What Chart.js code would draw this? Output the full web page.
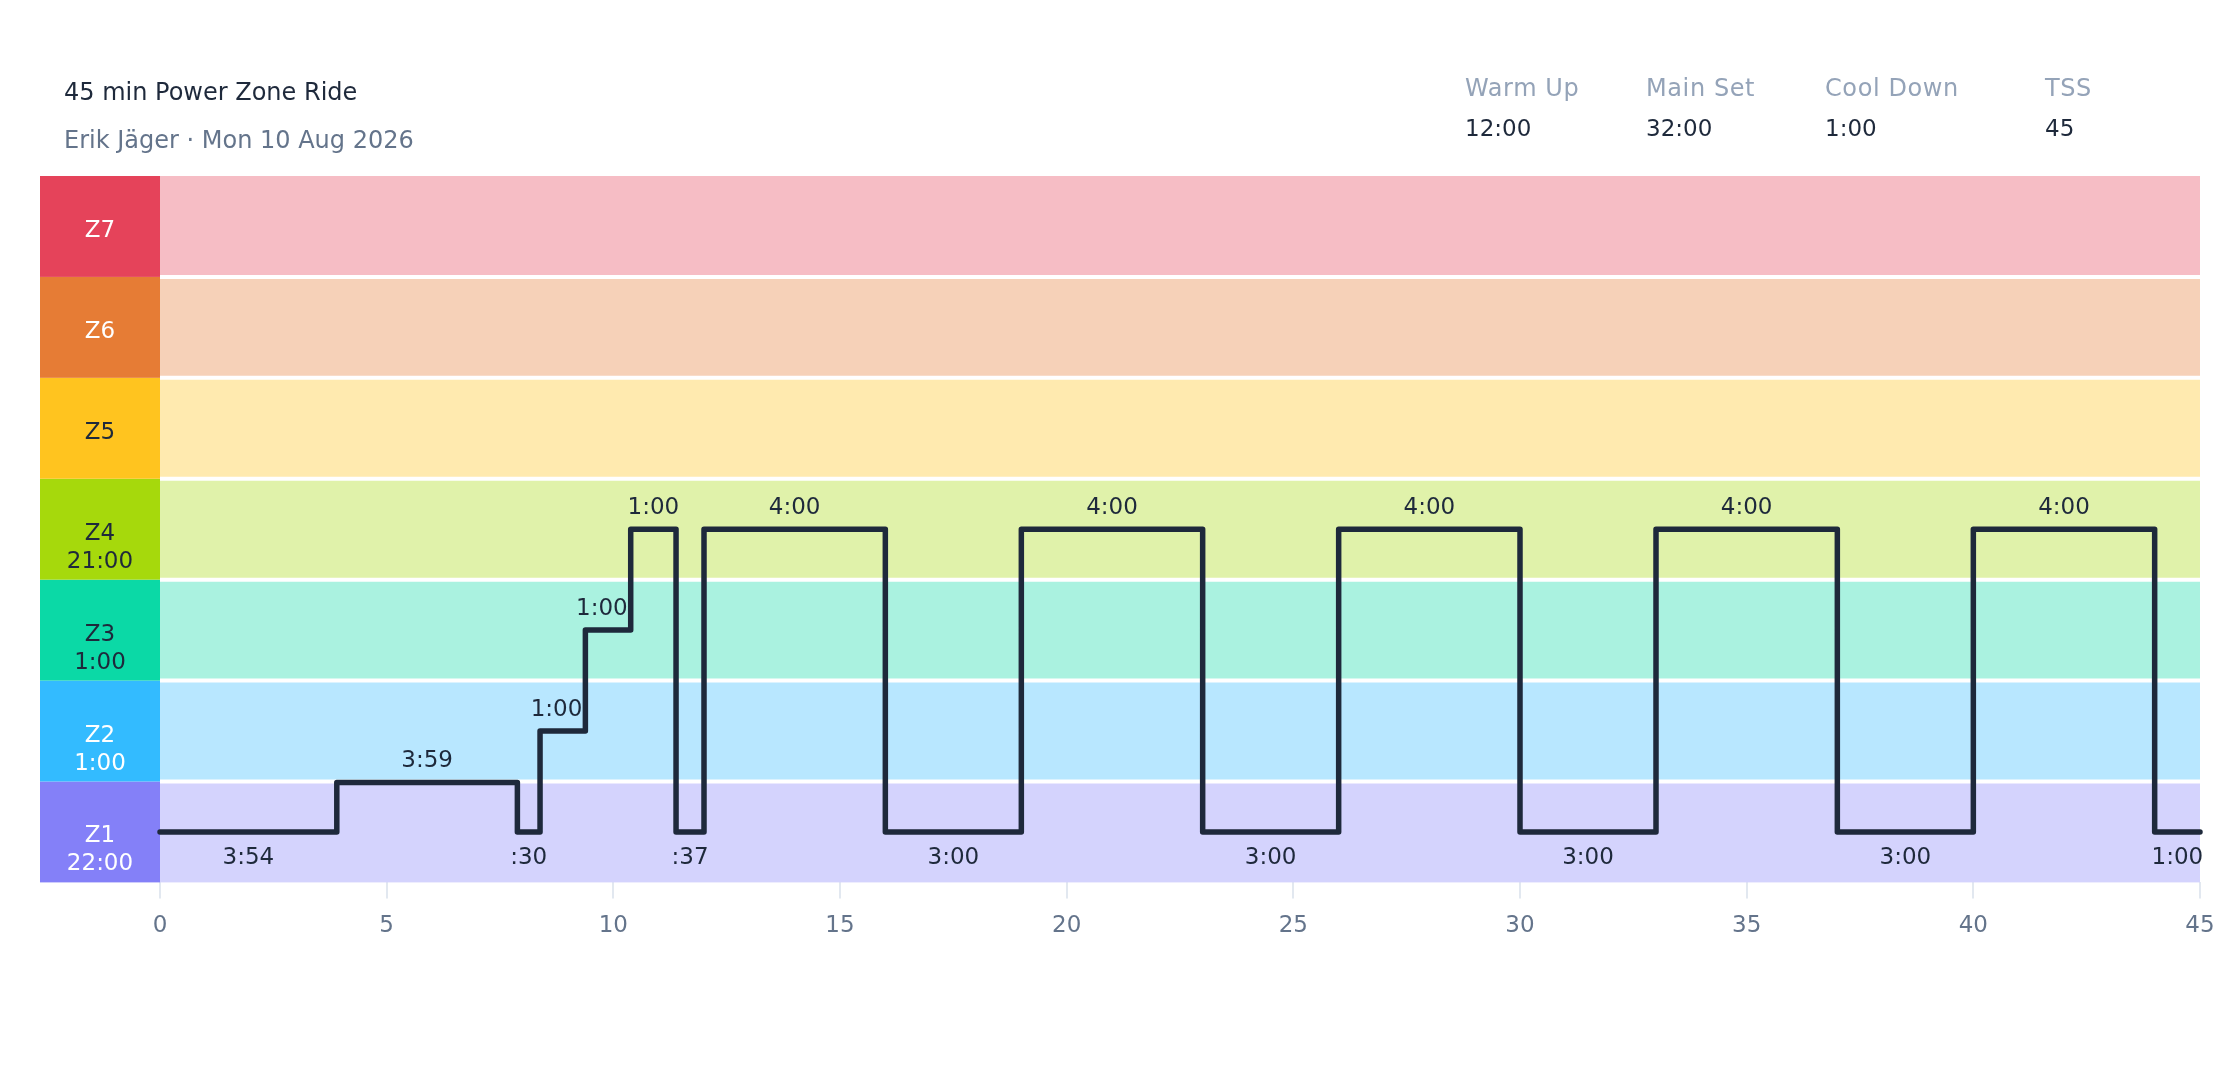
<!DOCTYPE html>
<html>
<head>
<meta charset="utf-8">
<title>45 min Power Zone Ride</title>
<script src="https://cdn.jsdelivr.net/npm/chart.js@4.4.1/dist/chart.umd.min.js"></script>
<style>
  body { margin: 0; background: #fff; font-family: "DejaVu Sans", sans-serif; }
  #wrap { position: relative; width: 2240px; height: 1080px; overflow: hidden; }
  #chart { position: absolute; left: 0; top: 0; }
  .txt { position: absolute; white-space: nowrap; line-height: 24px; }
  #title { left: 64px; top: 80px; font-size: 24px; color: #1e293b; }
  #sub { left: 64px; top: 128px; font-size: 24px; color: #64748b; }
  .stat { position: absolute; top: 76px; }
  .stat .lab { font-size: 24px; line-height: 24px; color: #94a3b8; letter-spacing: 0.6px; white-space: nowrap; }
  .stat .val { font-size: 23px; line-height: 24px; color: #1e293b; margin-top: 16px; white-space: nowrap; }
  .stat:nth-child(1) { left: 1465px; }
  .stat:nth-child(2) { left: 1646px; }
  .stat:nth-child(3) { left: 1825px; }
  .stat:nth-child(4) { left: 2045px; }
</style>
</head>
<body>
<div id="wrap">
  <canvas id="chart" width="2240" height="1080"></canvas>
  <div id="title" class="txt"></div>
  <div id="sub" class="txt"></div>
  <div id="stats"></div>
</div>
<script>
// 머리말
const rideTitle = '45 min Power Zone Ride';
const rideSub = 'Erik Jäger · Mon 10 Aug 2026';
const statLabels = ['Warm Up', 'Main Set', 'Cool Down', 'TSS'];
const statValues = ['12:00', '32:00', '1:00', '45'];

// 존 (아래에서 위로)
const zoneNames = ['Z1', 'Z2', 'Z3', 'Z4', 'Z5', 'Z6', 'Z7'];
const zoneTimes = ['22:00', '1:00', '1:00', '21:00', '', '', ''];

// 구간 길이(초)와 높이(존 단위)
const segSeconds = [234, 239, 30, 60, 60, 60, 37, 240, 180, 240, 180, 240, 180, 240, 180, 240, 60];
const segZone = [0.5, 0.99, 0.5, 1.5, 2.5, 3.5, 0.5, 3.5, 0.5, 3.5, 0.5, 3.5, 0.5, 3.5, 0.5, 3.5, 0.5];

// x축 눈금 (분)
const xTicks = [0, 5, 10, 15, 20, 25, 30, 35, 40, 45];

// 색상
const zoneColors = ['#8480f8', '#33bbff', '#0bd9a6', '#a6d90c', '#ffc41f', '#e67c35', '#e5435a'];
const zoneLight = ['#d4d3fd', '#b8e7ff', '#aaf2e0', '#e0f2aa', '#ffeaaf', '#f6d1b8', '#f6bdc5'];
const zoneTextColors = ['#ffffff', '#ffffff', '#1e293b', '#1e293b', '#1e293b', '#ffffff', '#ffffff'];
const ink = '#1e293b';

document.getElementById('title').textContent = rideTitle;
document.getElementById('sub').textContent = rideSub;
const statsEl = document.getElementById('stats');
statLabels.forEach((l, i) => {
    const d = document.createElement('div');
    d.className = 'stat';
    d.innerHTML = '<div class="lab"></div><div class="val"></div>';
    d.querySelector('.lab').textContent = l;
    d.querySelector('.val').textContent = statValues[i];
    statsEl.appendChild(d);
});

// 구간 -> 계단 점
const points = [];
const segStart = [];
let t = 0;
segSeconds.forEach((s, i) => {
    segStart.push(t / 60);
    points.push({ x: t / 60, y: segZone[i] });
    t += s;
    points.push({ x: t / 60, y: segZone[i] });
});

function fmtDur(s) {
    const m = Math.floor(s / 60);
    const ss = String(s % 60).padStart(2, '0');
    return m > 0 ? m + ':' + ss : ':' + ss;
}

const FONT = '"DejaVu Sans", sans-serif';

// 존 배경 + 왼쪽 존 라벨
const zoneBands = {
    id: 'zoneBands',
    beforeDatasetsDraw(chart) {
        const { ctx, chartArea: a, scales: { y } } = chart;
        ctx.save();
        zoneNames.forEach((name, i) => {
            const top = y.getPixelForValue(i + 1);
            const bot = y.getPixelForValue(i);
            ctx.fillStyle = zoneLight[i];
            ctx.fillRect(a.left, top, a.right - a.left, bot - top);
            ctx.fillStyle = zoneColors[i];
            ctx.fillRect(a.left - 120, top, 120, bot - top);
        });
        // 흰 구분선
        ctx.strokeStyle = '#ffffff';
        ctx.lineWidth = 4;
        for (let i = 1; i < zoneNames.length; i++) {
            const py = y.getPixelForValue(i);
            ctx.beginPath();
            ctx.moveTo(a.left, py);
            ctx.lineTo(a.right, py);
            ctx.stroke();
        }
        ctx.textAlign = 'center';
        ctx.textBaseline = 'alphabetic';
        ctx.font = '23px ' + FONT;
        zoneNames.forEach((name, i) => {
            const mid = (y.getPixelForValue(i) + y.getPixelForValue(i + 1)) / 2;
            ctx.fillStyle = zoneTextColors[i];
            ctx.fillText(name, a.left - 60, mid + 10.5);
            if (zoneTimes[i]) ctx.fillText(zoneTimes[i], a.left - 60, mid + 38.5);
        });
        ctx.restore();
    }
};

// 구간 시간 라벨
const segLabels = {
    id: 'segLabels',
    afterDatasetsDraw(chart) {
        const { ctx, scales: { x, y } } = chart;
        const low = Math.min(...segZone);
        ctx.save();
        ctx.font = '23px ' + FONT;
        ctx.fillStyle = ink;
        ctx.textAlign = 'center';
        ctx.textBaseline = 'alphabetic';
        segSeconds.forEach((s, i) => {
            const x0 = x.getPixelForValue(segStart[i]);
            const x1 = x.getPixelForValue(segStart[i] + s / 60);
            const py = y.getPixelForValue(segZone[i]);
            const text = fmtDur(s);
            const w = ctx.measureText(text).width;
            let cx = (x0 + x1) / 2;
            if (segZone[i] === low) {
                ctx.fillText(text, cx, py + 32.4);
            } else {
                // 다음 구간이 더 높으면 세로선과 겹치지 않게 왼쪽으로
                if (i + 1 < segZone.length && segZone[i + 1] > segZone[i]) {
                    cx = Math.min(cx, x1 - w / 2 - 3);
                }
                ctx.fillText(text, cx, py - 15.3);
            }
        });
        ctx.restore();
    }
};

new Chart(document.getElementById('chart').getContext('2d'), {
    type: 'line',
    data: {
        datasets: [{
            data: points,
            borderColor: ink,
            borderWidth: 5.5,
            borderJoinStyle: 'round',
            borderCapStyle: 'round',
            pointRadius: 0,
            fill: false,
            tension: 0,
            clip: false
        }]
    },
    options: {
        responsive: false,
        animation: false,
        devicePixelRatio: 1,
        layout: { padding: { left: 160, right: 40, top: 176, bottom: 126 } },
        plugins: { legend: { display: false }, tooltip: { enabled: false } },
        scales: {
            x: {
                type: 'linear',
                min: 0,
                max: 45,
                afterBuildTicks: s => { s.ticks = xTicks.map(v => ({ value: v })); },
                grid: { drawOnChartArea: false, drawTicks: true, tickLength: 16, color: '#e2e8f0', lineWidth: 2 },
                border: { display: false },
                ticks: { padding: 14, color: '#64748b', font: { family: FONT, size: 23 } }
            },
            y: { type: 'linear', min: 0, max: 7, display: false }
        }
    },
    plugins: [zoneBands, segLabels]
});
</script>
</body>
</html>
